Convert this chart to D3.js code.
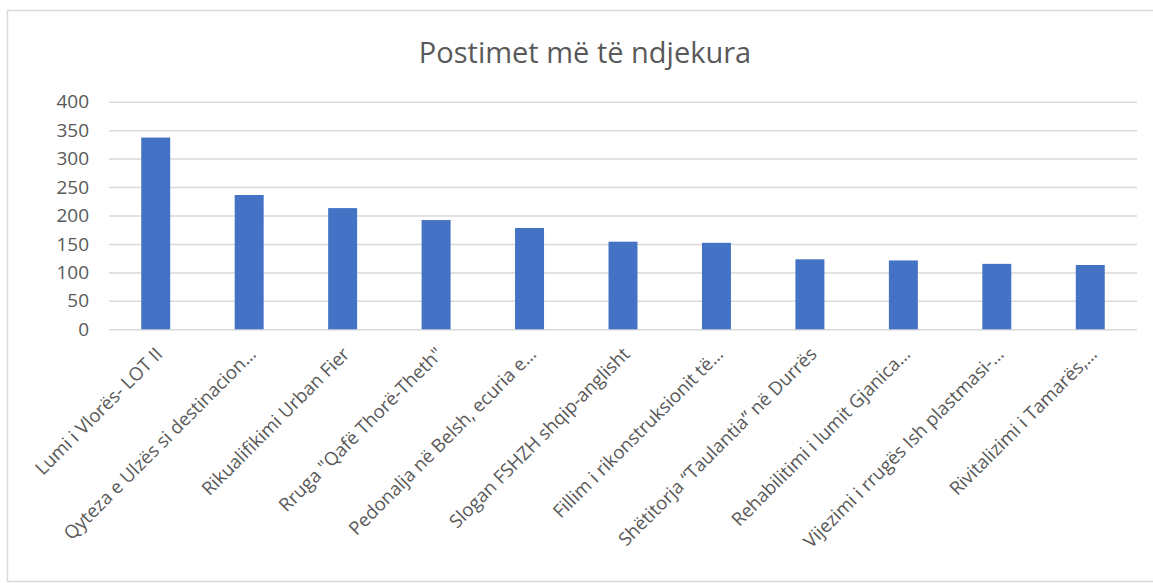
<!DOCTYPE html>
<html>
<head>
<meta charset="utf-8">
<script src="https://cdn.jsdelivr.net/npm/d3@7"></script>
<style>
  body { margin: 0; background: #fff; }
  text { font-family: "Open Sans", sans-serif; fill: #595959; }
</style>
</head>
<body>
<svg id="chart" width="1153" height="583"></svg>
<script>
// data
var categories = [
  "Lumi i Vlorës- LOT II",
  "Qyteza e Ulzës si destinacion…",
  "Rikualifikimi Urban Fier",
  "Rruga \"Qafë Thorë-Theth\"",
  "Pedonalja në Belsh, ecuria e…",
  "Slogan FSHZH shqip-anglisht",
  "Fillim i rikonstruksionit të…",
  "Shëtitorja “Taulantia” në Durrës",
  "Rehabilitimi i lumit Gjanica…",
  "Vijezimi i rrugës Ish plastmasi-…",
  "Rivitalizimi i Tamarës,…"
];
var values = [337, 236, 213, 192, 178, 154, 152, 123, 121, 115, 113];
var yTicks = [0, 50, 100, 150, 200, 250, 300, 350, 400];
var title = "Postimet më të ndjekura";

var svg = d3.select("#chart");

// chart frame
svg.append("rect")
    .attr("x", 7.5).attr("y", 10.5)
    .attr("width", 1160).attr("height", 571)
    .attr("fill", "#fff")
    .attr("stroke", "#d9d9d9")
    .attr("stroke-width", 1.5);

svg.append("text")
    .attr("x", 585).attr("y", 63)
    .attr("text-anchor", "middle")
    .style("font-size", "29px")
    .text(title);

var plotLeft = 109, plotRight = 1137, plotTop = 101.7, plotBottom = 329.3;

var x = d3.scaleBand()
    .domain(categories)
    .range([plotLeft, plotRight])
    .paddingInner(0.69)
    .paddingOuter(0.345);

var y = d3.scaleLinear()
    .domain([0, 400])
    .range([plotBottom, plotTop]);

// gridlines
var yAxis = d3.axisLeft(y)
    .tickValues(yTicks)
    .tickSize(-(plotRight - plotLeft))
    .tickPadding(20);

var gy = svg.append("g")
    .attr("transform", "translate(" + plotLeft + ",0)")
    .call(yAxis);
gy.select(".domain").remove();
gy.selectAll(".tick line").attr("stroke", "#d9d9d9").attr("stroke-width", 1.5);
gy.selectAll(".tick text")
    .attr("x", -20)
    .style("font-size", "19px")
    .style("font-family", "'Open Sans', sans-serif")
    .attr("fill", "#595959");

// bars
svg.append("g").selectAll("rect")
    .data(values)
    .enter()
    .append("rect")
    .attr("x", function (d, i) { return x(categories[i]); })
    .attr("y", function (d) { return y(d); })
    .attr("width", x.bandwidth())
    .attr("height", function (d) { return y(0) - y(d); })
    .attr("fill", "#4472c4");

// rotated category labels
var xAxis = d3.axisBottom(x).tickSize(0).tickPadding(0);
var gx = svg.append("g")
    .attr("transform", "translate(0," + plotBottom + ")")
    .call(xAxis);
gx.select(".domain").remove();
gx.selectAll(".tick text")
    .attr("text-anchor", "end")
    .attr("dy", 0)
    .attr("y", 0)
    .attr("transform", "translate(8,26) rotate(-45)")
    .style("font-size", "18.5px")
    .style("font-family", "'Open Sans', sans-serif")
    .attr("fill", "#595959");
</script>
</body>
</html>
